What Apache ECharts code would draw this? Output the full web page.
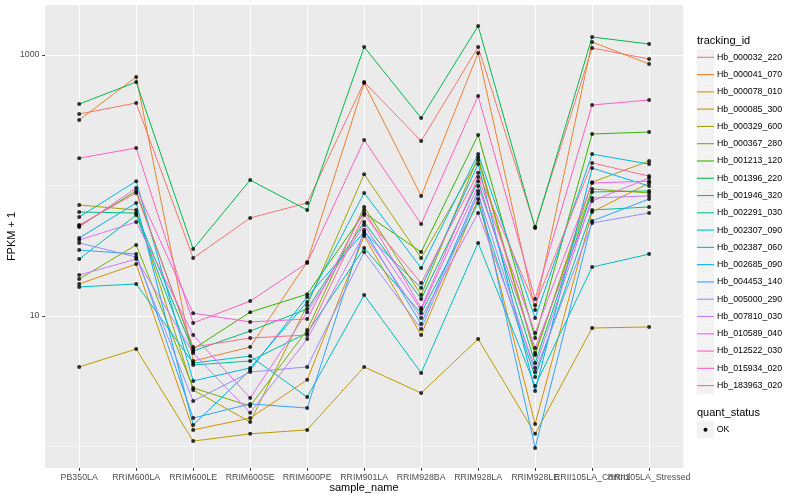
<!DOCTYPE html>
<html><head><meta charset="utf-8">
<script src="https://cdn.jsdelivr.net/npm/echarts@6/dist/echarts.min.js"></script>
<style>html,body{margin:0;padding:0;background:#fff}#c{width:800px;height:500px}</style>
</head><body><div id="c"></div>
<script>
const categories = ['PB350LA','RRIM600LA','RRIM600LE','RRIM600SE','RRIM600PE','RRIM901LA','RRIM928BA','RRIM928LA','RRIM928LE','RRII105LA_Control','RRII105LA_Stressed'];
const trackingIds = ['Hb_000032_220','Hb_000041_070','Hb_000078_010','Hb_000085_300','Hb_000329_600','Hb_000367_280','Hb_001213_120','Hb_001396_220','Hb_001946_320','Hb_002291_030','Hb_002307_090','Hb_002387_060','Hb_002685_090','Hb_004453_140','Hb_005000_290','Hb_007810_030','Hb_010589_040','Hb_012522_030','Hb_015934_020','Hb_183963_020'];
const lineColors = ['#F8766D','#EA8331','#D89000','#C09B00','#A3A500','#7CAE00','#39B600','#00BB4E','#00BF7D','#00C1A3','#00BFC4','#00BAE0','#00B0F6','#35A2FF','#9590FF','#C77CFF','#E76BF3','#FA62DB','#FF62BC','#FF6C91'];

// FPKM + 1 values per gene, in category order
const Hb_000032_220 = [353, 429, 27.8, 56.4, 73.5, 621, 219, 1152, 48.1, 1131, 932];
const Hb_000041_070 = [318, 678, 4.52, 5.78, 25.9, 610, 83.2, 1036, 11.1, 1258, 853];
const Hb_000078_010 = [17.6, 25.0, 1.34, 1.65, 3.24, 41.0, 7.15, 78.8, 1.49, 62.7, 104.5];
const Hb_000085_300 = [4.07, 5.58, 1.10, 1.25, 1.34, 4.07, 2.57, 6.66, 1.25, 8.09, 8.24];
const Hb_000329_600 = [70.9, 64.9, 2.71, 1.54, 12.1, 122, 27.8, 157, 5.02, 106, 154];
const Hb_000367_280 = [19.2, 35.0, 2.81, 2.04, 7.81, 68.5, 14.5, 165, 5.20, 94.0, 87.7];
const Hb_001213_120 = [48.9, 90.8, 5.58, 10.7, 14.7, 61.6, 30.9, 244, 6.78, 248, 257];
const Hb_001396_220 = [421, 621, 32.6, 110, 64.9, 1152, 329, 1668, 47.2, 1374, 1214];
const Hb_001946_320 = [62.7, 61.5, 5.39, 7.67, 11.3, 52.5, 13.5, 108, 4.36, 89.2, 90.8];
const Hb_002291_030 = [27.3, 59.4, 4.21, 4.52, 7.41, 33.2, 10.5, 73.5, 3.41, 64.9, 68.5];
const Hb_002307_090 = [16.7, 17.6, 4.36, 4.93, 2.39, 14.5, 3.66, 36.3, 2.91, 23.7, 29.8];
const Hb_002387_060 = [57.4, 108, 3.18, 4.00, 12.8, 87.7, 23.3, 174, 9.66, 174, 146];
const Hb_002685_090 = [39.6, 73.5, 1.46, 3.86, 14.0, 44.0, 16.4, 146, 2.66, 136, 99];
const Hb_004453_140 = [32.0, 29.8, 1.65, 2.12, 1.97, 45.6, 8.69, 90.8, 0.975, 53.5, 78.8];
const Hb_005000_290 = [36.3, 28.3, 2.23, 3.72, 4.07, 30.9, 7.95, 86.1, 3.72, 51.6, 61.6];
const Hb_007810_030 = [20.6, 27.3, 5.20, 1.81, 6.66, 42.5, 9.66, 61.6, 4.00, 80.2, 83.2];
const Hb_010589_040 = [38.2, 52.5, 7.15, 2.35, 10.7, 49.8, 11.1, 99, 5.69, 76.1, 114];
const Hb_012522_030 = [48.1, 95.7, 10.5, 9.0, 9.49, 64.9, 11.5, 116, 7.41, 104.5, 108];
const Hb_015934_020 = [162, 194, 8.84, 13.0, 25.5, 223, 50.7, 485, 13.5, 414, 452];
const Hb_183963_020 = [49.8, 87.7, 5.78, 6.78, 7.15, 59.4, 17.9, 125, 12.1, 149, 118];

const yTickValues = [10, 1000];
const yMinorValues = [1, 100];
const quantStatus = ['OK'];

const allValues = [Hb_000032_220, Hb_000041_070, Hb_000078_010, Hb_000085_300, Hb_000329_600, Hb_000367_280, Hb_001213_120, Hb_001396_220, Hb_001946_320, Hb_002291_030, Hb_002307_090, Hb_002387_060, Hb_002685_090, Hb_004453_140, Hb_005000_290, Hb_007810_030, Hb_010589_040, Hb_012522_030, Hb_015934_020, Hb_183963_020];

const FONT = 'Liberation Sans';
const catIdx = categories.map((c, i) => i);
// labels split over two overlaid axes so that ECharts does not drop overlapping end labels
const labelIdxA = catIdx.filter(i => i !== 9);
const labelIdxB = [9];

const series = trackingIds.map((id, k) => ({
  name: id, type: 'line', xAxisIndex: 0, yAxisIndex: 0,
  data: allValues[k].map((v, i) => [i, v]),
  showSymbol: false, symbol: 'none', silent: true, z: 2,
  color: lineColors[k],
  lineStyle: { color: lineColors[k], width: 1 }
}));
const pts = [];
allValues.forEach(arr => arr.forEach((v, i) => pts.push([i, v])));
series.push({
  name: quantStatus[0], type: 'scatter', data: pts, symbol: 'circle', symbolSize: 4,
  itemStyle: { color: '#000' }, z: 5, silent: true
});

const legendTop = 48.8, legendStep = 17.28;
const graphics = [];
trackingIds.forEach((id, k) => {
  graphics.push({ type: 'rect', z: 1, shape: { x: 697, y: legendTop + k * legendStep + 0.2, width: 17, height: 16.9 }, style: { fill: '#F2F2F2' } });
});
graphics.push({ type: 'text', z: 1, style: { x: 697, y: 40.7, text: 'tracking_id', font: '11px "' + FONT + '"', fill: '#000', verticalAlign: 'middle' } });
graphics.push({ type: 'text', z: 1, style: { x: 697, y: 412.7, text: 'quant_status', font: '11px "' + FONT + '"', fill: '#000', verticalAlign: 'middle' } });
graphics.push({ type: 'rect', z: 1, shape: { x: 697, y: 421.3, width: 17, height: 16.9 }, style: { fill: '#F2F2F2' } });
graphics.push({ type: 'circle', z: 2, shape: { cx: 705.5, cy: 429.7, r: 2 }, style: { fill: '#000' } });
graphics.push({ type: 'text', z: 2, style: { x: 716.7, y: 429.7, text: quantStatus[0], font: '8.8px "' + FONT + '"', fill: '#000', verticalAlign: 'middle' } });
graphics.push({ type: 'text', z: 2, style: { x: 364, y: 488.3, text: 'sample_name', font: '11px "' + FONT + '"', fill: '#000', align: 'center', verticalAlign: 'middle' } });
graphics.push({ type: 'text', z: 2, rotation: Math.PI / 2, x: 12, y: 236.5, style: { x: 0, y: 0, text: 'FPKM + 1', font: '11px "' + FONT + '"', fill: '#000', align: 'center', verticalAlign: 'middle' } });

const xLabelStyle = { formatter: v => categories[Math.round(v)], color: '#4D4D4D', fontSize: 8.8, fontFamily: FONT, margin: 5, hideOverlap: false, showMinLabel: true, showMaxLabel: true };

const option = {
  animation: false,
  backgroundColor: '#fff',
  textStyle: { fontFamily: FONT },
  grid: { left: 45, right: 116.7, top: 5, bottom: 32, show: true, backgroundColor: '#EBEBEB', borderWidth: 0, containLabel: false },
  xAxis: [{
    type: 'value', min: -0.6, max: 10.6, position: 'bottom',
    axisLine: { show: false, onZero: false },
    axisTick: { show: true, length: 2.75, lineStyle: { color: '#333', width: 1 }, customValues: catIdx },
    axisLabel: Object.assign({ customValues: labelIdxA }, xLabelStyle),
    splitLine: { show: true, lineStyle: { color: '#fff', width: 1.1 } }
  }, {
    type: 'value', min: -0.6, max: 10.6, position: 'bottom', offset: 0,
    axisLine: { show: false, onZero: false },
    axisTick: { show: false, customValues: labelIdxB },
    axisLabel: Object.assign({ customValues: labelIdxB }, xLabelStyle),
    splitLine: { show: false }
  }],
  yAxis: [{
    type: 'log', logBase: 10, min: 0.684, max: 2417,
    axisLine: { show: false, onZero: false },
    axisTick: { show: true, length: 2.75, lineStyle: { color: '#333', width: 1 }, customValues: yTickValues },
    axisLabel: { customValues: yTickValues, color: '#4D4D4D', fontSize: 8.8, fontFamily: FONT, margin: 5.5, formatter: v => String(Math.round(v)) },
    splitLine: { show: true, lineStyle: { color: '#fff', width: 1.1 } },
    z: 1
  }, {
    type: 'log', logBase: 10, min: 0.684, max: 2417, position: 'left',
    axisLine: { show: false, onZero: false },
    axisTick: { show: false, customValues: yMinorValues },
    axisLabel: { show: false },
    splitLine: { show: true, lineStyle: { color: '#fff', width: 0.55 } },
    z: 0
  }],
  legend: {
    orient: 'vertical', left: 697, top: legendTop, padding: 0, itemGap: 0.28,
    itemWidth: 17, itemHeight: 1.1, icon: 'rect',
    data: trackingIds, selectedMode: false,
    textStyle: { fontSize: 8.8, fontFamily: FONT, color: '#000', lineHeight: 17, padding: [0, 0, 0, -2] }
  },
  graphic: graphics,
  series: series
};
const chart = echarts.init(document.getElementById('c'));
chart.setOption(option);
</script></body></html>
